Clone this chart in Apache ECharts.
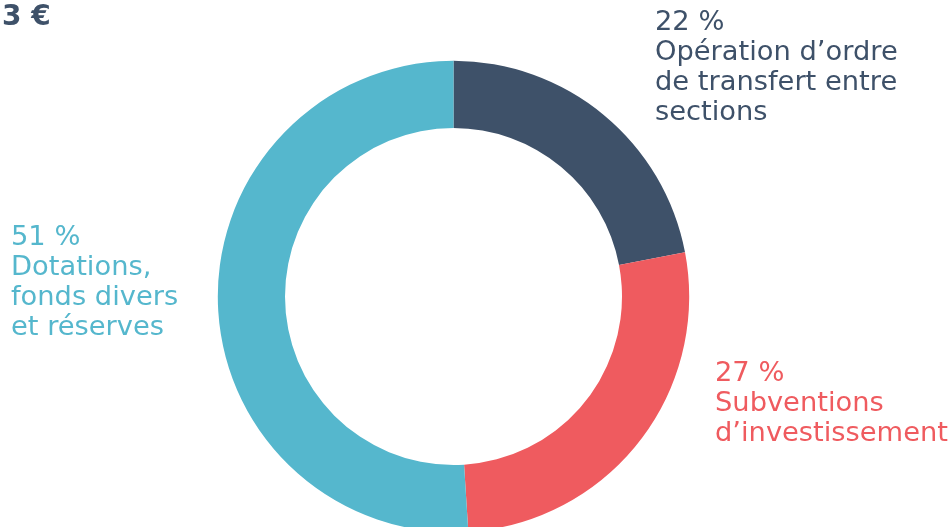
<!DOCTYPE html>
<html>
<head>
<meta charset="utf-8">
<script src="https://cdn.jsdelivr.net/npm/echarts@6/dist/echarts.min.js"></script>
<style>
html,body{margin:0;padding:0;background:#fff;}
#c{width:952px;height:527px;}
</style>
</head>
<body>
<div id="c"></div>
<script>
const categories = ["Opération d’ordre\nde transfert entre\nsections", "Subventions\nd’investissement", "Dotations,\nfonds divers\net réserves"];
const values = [22, 27, 51];
const colors = ["#3e5169", "#ef5b5f", "#55b7cd"];
const titleText = "3 €";
const labelPos = [[655, 8], [715, 359], [11, 223]];

const FONT = "'DejaVu Sans', sans-serif";
const chart = echarts.init(document.getElementById('c'), null, {renderer: 'canvas'});
chart.setOption({
  animation: false,
  title: {
    text: titleText, left: -3, top: -1,
    textStyle: {fontFamily: FONT, fontWeight: 'bold', fontSize: 28, color: '#3e5169'}
  },
  series: [{
    type: 'pie',
    center: [453.5, 296.5],
    radius: [168.5, 235.7],
    startAngle: 90,
    clockwise: true,
    silent: true,
    data: values.map((v, i) => ({value: v, name: categories[i], itemStyle: {color: colors[i]},
      label: {color: colors[i]}})),
    label: {
      show: true,
      formatter: p => p.value + ' %\n' + p.name,
      fontFamily: FONT, fontSize: 27.3, lineHeight: 30,
      align: 'left',
      overflow: 'none',
      width: 400
    },
    labelLine: {show: false},
    labelLayout: p => ({x: labelPos[p.dataIndex][0], y: labelPos[p.dataIndex][1], align: 'left', verticalAlign: 'top'})
  }]
});
</script>
</body>
</html>
